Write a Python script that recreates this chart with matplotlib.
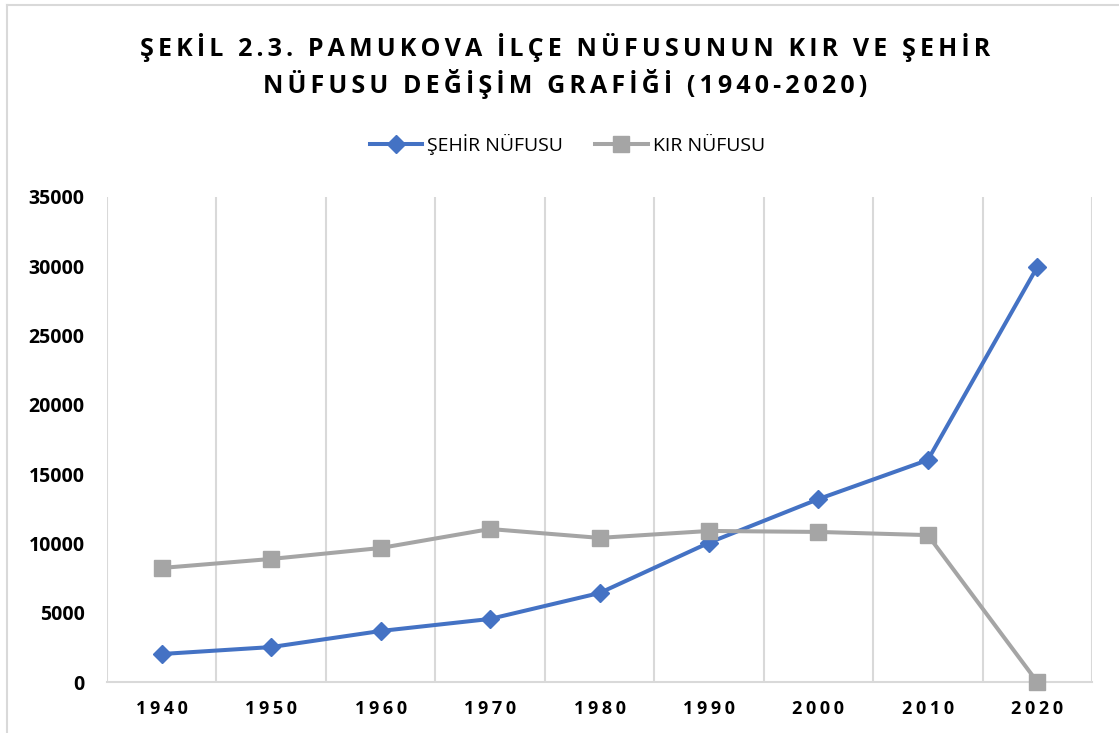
import matplotlib.pyplot as plt
from matplotlib.lines import Line2D

plt.rcParams['font.family'] = ['Open Sans', 'DejaVu Sans']

years = ["1940", "1950", "1960", "1970", "1980", "1990", "2000", "2010", "2020"]
sehir = [2020, 2520, 3680, 4550, 6420, 10050, 13200, 16020, 29950]
kir = [8230, 8880, 9670, 11040, 10400, 10900, 10830, 10600, 0]

BLUE = "#4472C4"
GRAY = "#A5A5A5"
GRID = "#D9D9D9"


def spaced(s, sep="\u2009"):
    # fake letter spacing like the Excel chart
    return sep.join(s)


fig = plt.figure(figsize=(11.19, 7.33), dpi=100)
ax = fig.add_axes([107 / 1119, 51 / 733, (1092 - 107) / 1119, (682 - 197) / 733])

x = list(range(len(years)))
ax.plot(x, sehir, color=BLUE, lw=2.9, marker="D", markersize=9.5, label="ŞEHİR NÜFUSU", zorder=3)
ax.plot(x, kir, color=GRAY, lw=2.9, marker="s", markersize=11.5, label="KIR NÜFUSU", zorder=3,
        clip_on=False)

ax.set_xlim(-0.5, len(years) - 0.5)
ax.set_ylim(0, 35000)
ax.set_yticks(range(0, 35001, 5000))
ax.set_yticklabels([str(v) for v in range(0, 35001, 5000)], fontsize=14, fontweight="bold")
ax.set_xticks(x)
ax.set_xticklabels([spaced(y) for y in years], fontsize=13, fontweight="bold")
ax.tick_params(length=0)
ax.tick_params(axis="x", pad=13)
ax.tick_params(axis="y", pad=16)

for b in range(len(years) + 1):
    ax.axvline(b - 0.5, color=GRID, lw=1.5, zorder=1)
for side in ["top", "right", "left"]:
    ax.spines[side].set_visible(False)
ax.spines["bottom"].set_color(GRID)
ax.spines["bottom"].set_linewidth(1.5)

title1 = "ŞEKİL 2.3. PAMUKOVA İLÇE NÜFUSUNUN KIR VE ŞEHİR"
title2 = "NÜFUSU DEĞİŞİM GRAFİĞİ (1940-2020)"
fig.text(0.505, 1 - 47 / 733, spaced(title1, "\u2006"), ha="center", va="center", fontsize=18, fontweight="bold")
fig.text(0.505, 1 - 84 / 733, spaced(title2, "\u2006"), ha="center", va="center", fontsize=18, fontweight="bold")

handles = [Line2D([], [], color=BLUE, lw=2.9, marker="D", markersize=9.5),
           Line2D([], [], color=GRAY, lw=2.9, marker="s", markersize=11.5)]
fig.legend(handles, ["ŞEHİR NÜFUSU", "KIR NÜFUSU"], loc="center", bbox_to_anchor=(0.507, 1 - 144 / 733),
           ncol=2, frameon=False, fontsize=14, handlelength=2.7, handletextpad=0.25, columnspacing=1.65)

# outer chart border (left and top visible in the original)
fig.add_artist(Line2D([7 / 1119, 7 / 1119], [0, 1 - 5 / 733], color=GRID, lw=1.5))
fig.add_artist(Line2D([7 / 1119, 1], [1 - 5 / 733, 1 - 5 / 733], color=GRID, lw=1.5))

fig.savefig("out.png", dpi=100)
